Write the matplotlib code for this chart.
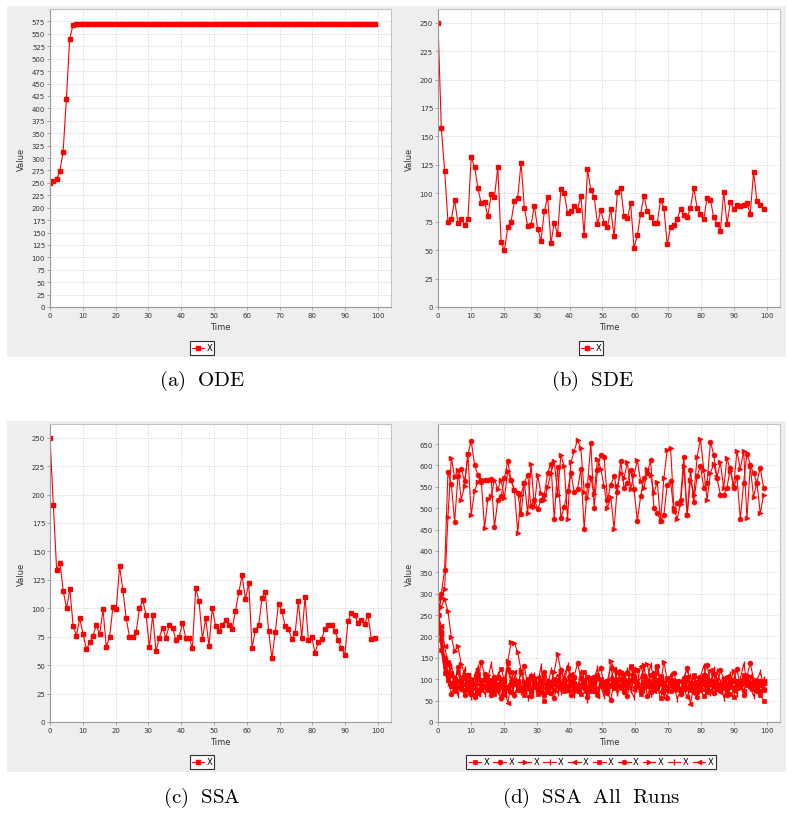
import numpy as np
import matplotlib.pyplot as plt
from matplotlib.patches import Rectangle

W, H = 787, 820
plt.rcParams['mathtext.fontset'] = 'cm'
plt.rcParams['font.family'] = ['DejaVu Sans']

# ---------------- data ----------------
# (a) ODE
ode_x = [250, 254, 258, 273, 313, 419, 540, 567] + [570] * 92

# (b) SDE
sde_x = [250, 157, 120, 75, 77, 94, 74, 77, 72, 77,
         132, 123, 105, 91, 92, 80, 99, 97, 123, 57,
         50, 70, 75, 93, 96, 127, 87, 71, 72, 89,
         69, 58, 84, 97, 56, 74, 64, 104, 100, 83,
         84, 89, 85, 98, 63, 121, 103, 97, 73, 85,
         74, 70, 86, 62, 101, 105, 80, 78, 91, 52,
         63, 82, 98, 84, 79, 74, 74, 94, 87, 55,
         70, 72, 77, 86, 81, 79, 87, 105, 87, 82,
         77, 96, 94, 79, 73, 67, 101, 73, 92, 86,
         90, 89, 90, 91, 82, 119, 93, 90, 86]

# (c) SSA (single run)
ssa_x = [250, 191, 134, 140, 115, 100, 117, 84, 76, 91,
         77, 64, 70, 76, 85, 77, 99, 66, 75, 101,
         99, 137, 116, 91, 75, 75, 79, 100, 107, 94,
         66, 94, 62, 74, 83, 74, 85, 83, 72, 75,
         87, 74, 74, 65, 118, 106, 73, 91, 67, 100,
         84, 80, 85, 90, 85, 82, 98, 114, 129, 108,
         122, 65, 81, 85, 109, 114, 80, 56, 79, 104,
         98, 84, 82, 73, 78, 106, 74, 110, 72, 75,
         61, 70, 73, 82, 85, 85, 80, 72, 65, 59,
         89, 96, 94, 87, 90, 86, 94, 73, 74]

# (d) SSA all runs
run_01 = ssa_x
run_02 = [250, 300, 356, 585, 557, 468, 575, 592, 563, 626, 658, 601, 578, 562, 565, 566, 569, 455, 520, 528,
          570, 611, 565, 542, 535, 486, 560, 578, 505, 520, 498, 519, 531, 583, 604, 475, 596, 478, 503, 540,
          582, 538, 545, 592, 452, 555, 652, 500, 590, 625, 620, 520, 555, 575, 538, 610, 548, 560, 590, 545,
          470, 528, 570, 582, 612, 500, 490, 470, 485, 555, 563, 494, 512, 520, 620, 484, 590, 515, 576, 598,
          548, 560, 655, 625, 570, 532, 532, 548, 595, 548, 572, 475, 560, 628, 601, 582, 560, 595, 548]
run_03 = [250, 270, 287, 259, 199, 165, 177, 135, 112, 96, 104, 88, 121, 98, 85, 110, 93, 79, 104, 88,
          62, 142, 186, 185, 163, 121, 96, 88, 102, 80, 76, 98, 111, 85, 92, 118, 160, 119, 96, 84,
          90, 101, 79, 87, 95, 73, 88, 99, 106, 84, 91, 77, 143, 126, 98, 120, 89, 81, 94, 103,
          86, 78, 133, 135, 92, 112, 128, 88, 141, 99, 84, 76, 90, 97, 83, 79, 92, 105, 88, 81,
          94, 110, 87, 95, 78, 89, 102, 84, 96, 119, 91, 80, 88, 98, 86, 92, 83, 97, 90]
run_04 = [250, 176, 118, 92, 131, 104, 62, 96, 124, 71, 58, 110, 128, 84, 66, 104, 135, 97, 73, 55,
          95, 125, 101, 64, 82, 117, 92, 57, 73, 109, 88, 130, 66, 84, 121, 96, 68, 86, 107, 133,
          91, 62, 80, 118, 94, 52, 74, 103, 126, 85, 60, 97, 129, 88, 67, 81, 110, 122, 74, 58,
          90, 104, 127, 93, 65, 84, 116, 99, 60, 78, 111, 86, 54, 72, 100, 125, 89, 70, 63, 106,
          132, 97, 68, 87, 119, 94, 57, 83, 112, 76, 66, 101, 136, 95, 80, 61, 98, 117, 87]
run_05 = [250, 205, 140, 110, 93, 81, 97, 74, 86, 109, 95, 78, 65, 88, 102, 84, 97, 73, 91, 80,
          62, 84, 99, 117, 90, 76, 88, 94, 71, 83, 105, 96, 80, 68, 92, 87, 101, 79, 74, 98,
          113, 88, 70, 84, 95, 106, 82, 77, 61, 89, 97, 85, 102, 123, 93, 80, 72, 88, 99, 76,
          90, 131, 108, 86, 79, 95, 84, 69, 92, 100, 88, 74, 83, 97, 78, 58, 85, 93, 106, 89,
          76, 98, 121, 95, 84, 70, 88, 103, 92, 79, 85, 96, 73, 89, 107, 94, 81, 88, 96]
run_06 = [250, 168, 115, 98, 84, 72, 95, 87, 103, 78, 66, 90, 112, 99, 82, 75, 93, 86, 104, 125,
          97, 80, 71, 89, 96, 78, 64, 87, 108, 92, 83, 70, 48, 76, 94, 101, 88, 79, 95, 127,
          110, 91, 77, 85, 99, 72, 81, 93, 104, 88, 74, 96, 86, 79, 91, 115, 97, 83, 130, 102,
          89, 76, 94, 85, 71, 88, 99, 107, 92, 80, 73, 86, 95, 78, 84, 100, 91, 77, 69, 90,
          104, 88, 96, 112, 85, 79, 92, 87, 101, 76, 95, 82, 110, 93, 86, 78, 97, 64, 50]
run_07 = [250, 214, 150, 118, 66, 85, 128, 92, 63, 109, 87, 58, 101, 140, 112, 79, 64, 105, 84, 55,
          99, 124, 90, 62, 86, 115, 131, 80, 61, 102, 84, 70, 118, 97, 68, 55, 93, 122, 99, 76,
          64, 106, 138, 102, 79, 59, 96, 73, 111, 127, 85, 67, 52, 92, 118, 101, 70, 61, 99, 124,
          88, 72, 108, 60, 86, 103, 132, 98, 76, 57, 94, 115, 83, 66, 104, 126, 90, 71, 58, 97,
          110, 133, 92, 68, 84, 121, 100, 62, 81, 96, 123, 85, 64, 107, 138, 99, 73, 95, 78]
run_08 = [250, 290, 312, 480, 618, 572, 590, 520, 552, 627, 485, 540, 562, 568, 453, 522, 528, 567, 545, 566,
          524, 588, 565, 542, 443, 532, 560, 488, 604, 503, 578, 535, 520, 550, 582, 610, 532, 625, 598, 475,
          608, 633, 660, 640, 538, 524, 572, 533, 615, 592, 551, 500, 527, 452, 553, 582, 571, 607, 545, 578,
          612, 563, 547, 591, 578, 535, 562, 470, 570, 637, 642, 500, 475, 510, 598, 483, 567, 530, 620, 663,
          590, 520, 583, 603, 573, 607, 547, 618, 587, 552, 634, 592, 635, 477, 598, 526, 560, 488, 530]
run_09 = [250, 190, 128, 100, 86, 95, 120, 104, 89, 77, 98, 85, 73, 92, 107, 94, 81, 88, 112, 97,
          84, 76, 91, 103, 87, 70, 82, 96, 109, 90, 79, 86, 100, 74, 88, 95, 83, 71, 90, 106,
          94, 80, 87, 99, 76, 68, 85, 93, 102, 89, 78, 91, 97, 84, 73, 88, 110, 96, 82, 79,
          93, 87, 75, 99, 134, 101, 86, 92, 80, 74, 89, 96, 85, 70, 83, 98, 107, 90, 81, 87,
          95, 78, 88, 124, 99, 84, 91, 76, 89, 102, 94, 81, 73, 92, 99, 86, 80, 94, 101]
run_10 = [250, 225, 178, 136, 108, 92, 80, 99, 86, 74, 91, 102, 88, 79, 97, 84, 70, 95, 106, 89,
          76, 45, 85, 99, 92, 81, 73, 90, 104, 86, 78, 95, 88, 72, 84, 97, 110, 91, 80, 87,
          99, 76, 69, 88, 94, 83, 105, 96, 79, 86, 92, 74, 88, 101, 90, 77, 84, 96, 112, 93,
          81, 75, 89, 98, 86, 72, 91, 104, 85, 79, 93, 87, 74, 96, 90, 83, 42, 88, 97, 102,
          86, 79, 94, 89, 76, 84, 99, 108, 91, 82, 88, 95, 104, 87, 79, 97, 90, 85, 92]
all_runs = [run_01, run_02, run_03, run_04, run_05, run_06, run_07, run_08, run_09, run_10]
run_markers = ['s', 'o', '>', '|', '<', 's', 'o', '>', '|', '<']

RED = '#ff0000'
captions = ['(a)\\ \\ ODE', '(b)\\ \\ SDE', '(c)\\ \\ SSA', '(d)\\ \\ SSA\\ \\ All\\ \\ Runs']


def px_axes(fig, x0, y0, x1, y1):
    return fig.add_axes([x0 / W, 1 - y1 / H, (x1 - x0) / W, (y1 - y0) / H])


def style(ax, ymax, yticks):
    ax.set_facecolor('white')
    ax.set_xlim(0, 104)
    ax.set_ylim(0, ymax)
    ax.set_xticks(np.arange(0, 101, 10))
    ax.set_yticks(yticks)
    ax.set_axisbelow(True)
    ax.grid(True, color='#cccccc', linestyle=(0, (2, 2)), linewidth=0.5)
    ax.tick_params(labelsize=5, length=2, width=0.5, color='#888888',
                   labelcolor='#333333', pad=1.5)
    for s in ['top', 'right']:
        ax.spines[s].set_color('#c4c4c4')
        ax.spines[s].set_linewidth(0.8)
    for s in ['left', 'bottom']:
        ax.spines[s].set_color('#999999')
        ax.spines[s].set_linewidth(0.8)
    ax.set_xlabel('Time', fontsize=6, color='#333333', va='center')
    ax.set_ylabel('Value', fontsize=6, color='#333333', va='center')
    ax.xaxis.set_label_coords(0.5, -20 / 298)
    ax.yaxis.set_label_coords(-29 / 342, 0.5)


def add_legend(ax, handles, cx, cy, ncol=1):
    leg = ax.legend(handles=handles, labels=['X'] * len(handles), loc='center',
                    bbox_to_anchor=(cx / W, 1 - cy / H), bbox_transform=fig.transFigure,
                    ncol=ncol, fontsize=6, frameon=True, fancybox=False,
                    handlelength=1.5, handletextpad=0.3, columnspacing=0.5,
                    borderpad=0.25, borderaxespad=0)
    leg.get_frame().set_edgecolor('black')
    leg.get_frame().set_linewidth(0.8)


def times(vals):
    return np.linspace(0, 99, len(vals))


fig = plt.figure(figsize=(W / 100, H / 100), dpi=100)
fig.patch.set_facecolor('white')
for top in (7, 422):
    fig.patches.append(Rectangle((7 / W, 1 - (top + 351) / H), 779 / W, 351 / H,
                                 transform=fig.transFigure, facecolor='#eeeeee',
                                 edgecolor='none', zorder=-10))

# (a) ODE
ax_a = px_axes(fig, 50, 10, 391, 308)
h_a, = ax_a.plot(times(ode_x), ode_x, color=RED, lw=0.8, marker='s', ms=3.2)
style(ax_a, 600, np.arange(0, 576, 25))
add_legend(ax_a, [h_a], 202, 349)

# (b) SDE
ax_b = px_axes(fig, 438, 10, 780, 308)
h_b, = ax_b.plot(times(sde_x), sde_x, color=RED, lw=0.8, marker='s', ms=3.2)
style(ax_b, 262, np.arange(0, 251, 25))
add_legend(ax_b, [h_b], 591, 349)

# (c) SSA
ax_c = px_axes(fig, 50, 425, 391, 723)
h_c, = ax_c.plot(times(ssa_x), ssa_x, color=RED, lw=0.8, marker='s', ms=3.2)
style(ax_c, 262, np.arange(0, 251, 25))
add_legend(ax_c, [h_c], 202, 763)

# (d) SSA all runs
ax_d = px_axes(fig, 438, 425, 780, 723)
handles = []
for vals, m in zip(all_runs, run_markers):
    h, = ax_d.plot(times(vals), vals, color=RED, lw=0.8, marker=m,
                   ms=3.5 if m != '|' else 4.5, mew=1 if m == '|' else 0.5)
    handles.append(h)
style(ax_d, 697, np.arange(0, 651, 50))
add_legend(ax_d, handles, 591, 763, ncol=10)

# captions
for (cx, cy), txt in zip([(202, 381), (592, 381), (202, 798), (591, 798)], captions):
    fig.text(cx / W, 1 - cy / H, '$\\mathrm{' + txt + '}$', fontsize=15,
             ha='center', va='center')

fig.savefig('out.png', dpi=100)
